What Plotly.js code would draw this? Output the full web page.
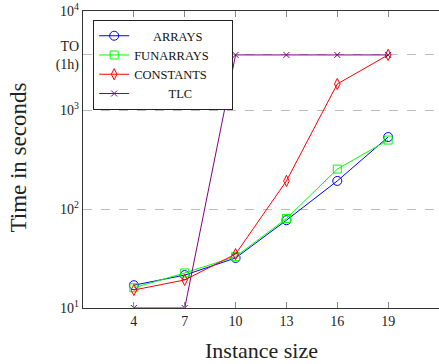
<!DOCTYPE html>
<html><head><meta charset="utf-8">
<script src="https://cdn.plot.ly/plotly-3.0.1.min.js"></script>
<style>html,body{margin:0;padding:0;background:#fff}#c{width:439px;height:364px}</style>
</head><body><div id="c"></div>
<script>
const sizes = [4, 7, 10, 13, 16, 19];
const arrays = [17, 21.5, 32, 77, 192, 533];
const funarrays = [16, 22.6, 33, 80, 253, 497];
const constants = [15.2, 19.2, 35, 192, 1832, 3600];
const tlc = [10, 10, 3600, 3600, 3600, 3600];
const seriesNames = ['ARRAYS', 'FUNARRAYS', 'CONSTANTS', 'TLC'];
const yTickVals = [10, 100, 1000, 3600, 10000];
const yTickText = ['10<sup>1</sup>', '10<sup>2</sup>', '10<sup>3</sup>', 'TO<br>(1h)', '10<sup>4</sup>'];
const xTickVals = [4, 7, 10, 13, 16, 19];

const font = '"Liberation Serif", "DejaVu Serif", serif';
const NB = '\u00A0';
function pad(s, n) { return NB.repeat(n) + s + NB.repeat(n); }
function tr(name, y, color, symbol, size) {
  return {x: sizes, y: y, name: name, type: 'scatter', mode: 'lines+markers',
    line: {color: color, width: 1},
    marker: {symbol: symbol, size: size, color: color, line: {color: color, width: 1}}};
}
const data = [
  tr(pad(seriesNames[0], 6), arrays, '#0000ff', 'circle-open', 9),
  tr(pad(seriesNames[1], 0), funarrays, '#00ff00', 'square-open', 8),
  tr(pad(seriesNames[2], 0), constants, '#ff0000', 'diamond-tall-open', 8),
  tr(pad(seriesNames[3], 11), tlc, '#800080', 'x-thin-open', 6)
];
const layout = {
  width: 439, height: 364,
  margin: {l: 83, r: 0, t: 11, b: 56},
  paper_bgcolor: '#fff', plot_bgcolor: '#fff',
  font: {family: font, color: '#222', size: 14},
  showlegend: true,
  legend: {x: 0.028, y: 0.97, xanchor: 'left', yanchor: 'top',
    bgcolor: '#fff', bordercolor: '#222', borderwidth: 1.2,
    font: {family: font, size: 12.5, color: '#111'}, tracegroupgap: 0},
  xaxis: {range: [1, 22], tickvals: xTickVals, ticks: 'inside', ticklen: 6,
    tickcolor: '#888', showgrid: false, zeroline: false,
    showline: true, linecolor: '#333', linewidth: 1.2, mirror: 'ticks',
    tickfont: {size: 14, family: font}},
  yaxis: {type: 'log', range: [1, 4], tickvals: yTickVals, ticktext: yTickText,
    ticks: '', showgrid: true, gridcolor: '#bbb', griddash: 'dash', gridwidth: 1,
    zeroline: false, showline: true, linecolor: '#333', linewidth: 1.2, mirror: true,
    tickfont: {size: 14, family: font}},
  annotations: [
    {text: 'Instance size', xref: 'paper', yref: 'paper', x: 0.5, y: 0,
     yshift: -42, xanchor: 'center', yanchor: 'middle', showarrow: false,
     font: {size: 22, family: font, color: '#222'}},
    {text: 'Time in seconds', xref: 'paper', yref: 'paper', x: 0, y: 0.5,
     xshift: -65, yshift: 2, xanchor: 'center', yanchor: 'middle', textangle: -90, showarrow: false,
     font: {size: 23, family: font, color: '#222'}}
  ]
};
Plotly.newPlot('c', data, layout, {displayModeBar: false, staticPlot: true});
</script></body></html>
